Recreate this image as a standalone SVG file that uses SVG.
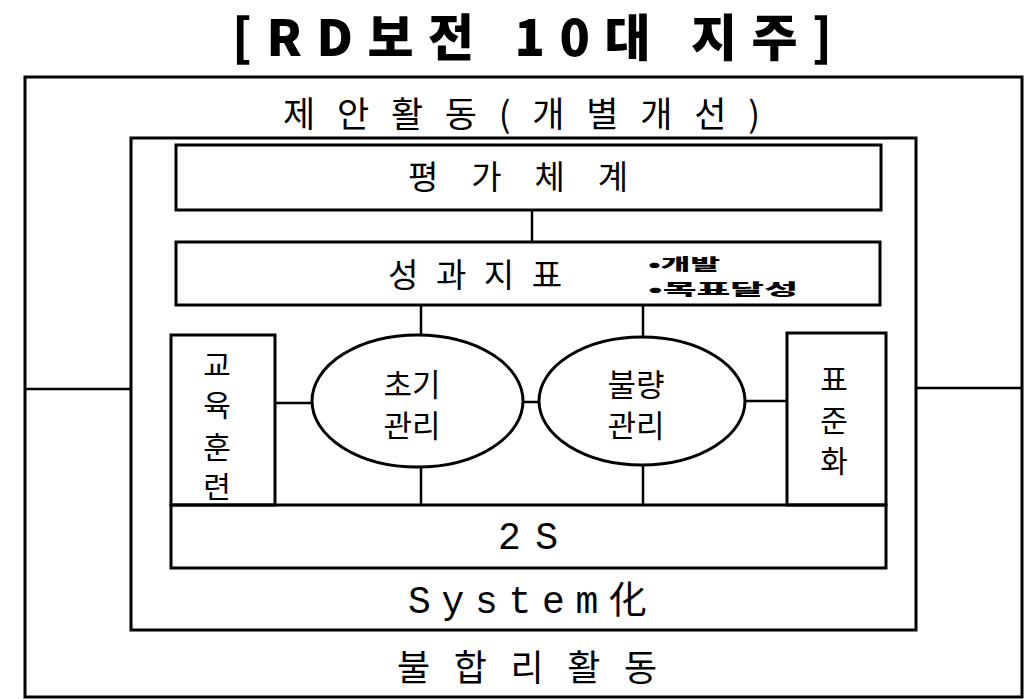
<svg xmlns="http://www.w3.org/2000/svg" width="1035" height="699" viewBox="0 0 1035 699">
<style>
.box{fill:none;stroke:#000;stroke-width:3}
.ln{stroke:#000;stroke-width:2.5;fill:none}
.k{font-family:"Noto Sans CJK KR","Noto Sans",sans-serif;fill:#000}
.m{font-family:"Liberation Mono","Noto Sans CJK KR",monospace;fill:#000}
</style>
<rect width="1035" height="699" fill="#fff"/>
<g id="title"><text class="k" x="232" y="56" font-size="50" font-weight="900" textLength="600" lengthAdjust="spacing">[RD보전 10대 지주]</text></g>
<g id="outer"><rect class="box" x="25" y="77" width="997" height="620"/>
<text class="k" x="283" y="127" font-size="35" textLength="477" lengthAdjust="spacing">제안활동(개별개선)</text>
<text class="k" x="397" y="681" font-size="36" textLength="260" lengthAdjust="spacing">불합리활동</text></g>
<g id="inner"><rect class="box" x="131" y="138" width="785" height="492"/>
<text class="m" x="408" y="613" font-size="38" textLength="239" lengthAdjust="spacing">System化</text></g>
<g id="eval"><rect class="box" x="176" y="145" width="705" height="65"/>
<text class="k" x="408" y="189" font-size="33" textLength="220" lengthAdjust="spacing">평가체계</text></g>
<g id="kpi"><rect class="box" x="176" y="242" width="704" height="63"/>
<text class="k" x="388" y="287" font-size="33" textLength="174" lengthAdjust="spacing">성과지표</text>
<text class="k" x="648" y="270" font-size="16" font-weight="900" textLength="72" lengthAdjust="spacingAndGlyphs">•개발</text>
<text class="k" x="648" y="295" font-size="16" font-weight="900" textLength="150" lengthAdjust="spacingAndGlyphs">•목표달성</text></g>
<g id="edu"><rect class="box" x="171" y="335" width="104" height="170"/>
<text class="k" font-size="30" text-anchor="middle"><tspan x="217" y="376">교</tspan><tspan x="217" y="416">육</tspan><tspan x="217" y="458">훈</tspan><tspan x="217" y="498">련</tspan></text></g>
<g id="early"><ellipse class="box" cx="417.5" cy="401" rx="105.5" ry="66"/>
<text class="k" font-size="31" text-anchor="middle"><tspan x="412" y="396">초기</tspan><tspan x="412" y="437">관리</tspan></text></g>
<g id="defect"><ellipse class="box" cx="642" cy="401" rx="103" ry="64"/>
<text class="k" font-size="31" text-anchor="middle"><tspan x="636" y="396">불량</tspan><tspan x="636" y="437">관리</tspan></text></g>
<g id="std"><rect class="box" x="787" y="333" width="99" height="172"/>
<text class="k" font-size="30" text-anchor="middle"><tspan x="834" y="390">표</tspan><tspan x="834" y="431">준</tspan><tspan x="834" y="472">화</tspan></text></g>
<g id="s2"><rect class="box" x="171" y="505" width="715" height="63"/>
<text class="m" x="498" y="549" font-size="38" textLength="60" lengthAdjust="spacing">2S</text></g>
<g id="connectors">
<line class="ln" x1="25" y1="389" x2="131" y2="389"/>
<line class="ln" x1="916" y1="388" x2="1022" y2="388"/>
<line class="ln" x1="532" y1="210" x2="532" y2="242"/>
<line class="ln" x1="421" y1="305" x2="421" y2="335"/>
<line class="ln" x1="643" y1="305" x2="643" y2="337"/>
<line class="ln" x1="275" y1="403" x2="312" y2="403"/>
<line class="ln" x1="523" y1="402" x2="539" y2="402"/>
<line class="ln" x1="745" y1="401" x2="787" y2="401"/>
<line class="ln" x1="421" y1="467" x2="421" y2="505"/>
<line class="ln" x1="643" y1="465" x2="643" y2="505"/>
</g>
</svg>
